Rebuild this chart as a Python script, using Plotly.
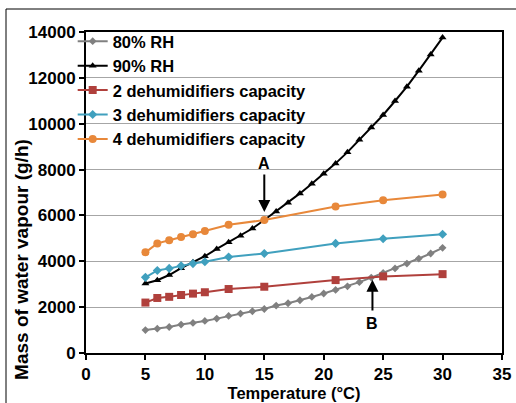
import plotly.graph_objects as go

# Data
temp_rh = list(range(5, 31))
rh80 = [1000, 1060, 1135, 1240, 1310, 1400, 1500, 1615, 1720, 1820, 1920, 2070, 2170,
        2300, 2445, 2595, 2750, 2910, 3090, 3290, 3490, 3690, 3900, 4120, 4340, 4585]
rh90 = [3030, 3175, 3400, 3700, 3960, 4220, 4540, 4830, 5110, 5430, 5800, 6175, 6550,
        6960, 7380, 7815, 8270, 8760, 9300, 9840, 10380, 10990, 11615, 12315, 13015, 13755]
temp_cap = [5, 6, 7, 8, 9, 10, 12, 15, 21, 25, 30]
cap2 = [2200, 2400, 2450, 2530, 2590, 2650, 2790, 2890, 3180, 3340, 3440]
cap3 = [3300, 3600, 3690, 3800, 3900, 3980, 4190, 4340, 4780, 4980, 5180]
cap4 = [4390, 4780, 4920, 5060, 5180, 5320, 5590, 5800, 6390, 6660, 6910]

series = [
    ("80% RH", temp_rh, rh80, "#808080", "diamond", 6),
    ("90% RH", temp_rh, rh90, "#000000", "triangle-up", 7),
    ("2 dehumidifiers capacity", temp_cap, cap2, "#B0403C", "square", 8),
    ("3 dehumidifiers capacity", temp_cap, cap3, "#40A0BE", "diamond", 7),
    ("4 dehumidifiers capacity", temp_cap, cap4, "#E8883A", "circle", 8),
]

fig = go.Figure()
for name, xs, ys, col, sym, sz in series:
    fig.add_trace(go.Scatter(x=xs, y=ys, name="<b>" + name + "</b>", mode="lines+markers",
                             line=dict(color=col, width=2),
                             marker=dict(symbol=sym, size=sz, color=col)))

font = dict(family="Liberation Sans", size=16, color="black")
fig.update_layout(
    width=516, height=403,
    margin=dict(l=86, r=14, t=32, b=50, autoexpand=False),
    paper_bgcolor="white", plot_bgcolor="white",
    font=font,
    showlegend=True,
    legend=dict(x=-0.032, y=1.025, xanchor="left", yanchor="top",
                bgcolor="rgba(0,0,0,0)", font=dict(family="Liberation Sans", size=16.5),
                itemwidth=30, tracegroupgap=0),
    xaxis=dict(range=[0, 35], dtick=5, showgrid=False, zeroline=False, automargin=False,
               showline=True, linecolor="black", linewidth=2, mirror=True,
               ticks="outside", ticklen=5, tickcolor="black", tickwidth=1.5,
               title=dict(text="<b>Temperature (°C)</b>", standoff=0, font=dict(size=16.5)),
               tickfont=dict(size=17), tickprefix="<b>", ticksuffix="</b>"),
    yaxis=dict(range=[0, 14000], dtick=2000, tickformat="d", showgrid=True, automargin=False,
               gridcolor="#A6A6A6", gridwidth=1,
               zeroline=False, showline=True, linecolor="black", linewidth=2, mirror=True,
               ticks="outside", ticklen=5, tickcolor="black", tickwidth=1.5,
               tickfont=dict(size=17), tickprefix="<b>", ticksuffix="</b>"),
)

# Y-axis title (placed like the reference, below the axis middle)
fig.add_annotation(xref="paper", yref="paper", x=-0.154, y=0.293, textangle=-90,
                   text="<b>Mass of water vapour (g/h)</b>", showarrow=False,
                   font=dict(size=19), xanchor="center", yanchor="middle")

# Annotations A and B
fig.add_annotation(x=15, y=6150, ax=15, ay=7850, xref="x", yref="y", axref="x", ayref="y",
                   text="", showarrow=True, arrowhead=2, arrowsize=1.2, arrowwidth=2, arrowcolor="black")
fig.add_annotation(x=15, y=8250, text="<b>A</b>", showarrow=False, font=dict(size=16))
fig.add_annotation(x=24.1, y=3200, ax=24.1, ay=1790, xref="x", yref="y", axref="x", ayref="y",
                   text="", showarrow=True, arrowhead=2, arrowsize=1.2, arrowwidth=2, arrowcolor="black")
fig.add_annotation(x=24.1, y=1290, text="<b>B</b>", showarrow=False, font=dict(size=16))

# Outer frame of the figure
fig.add_shape(type="rect", xref="paper", yref="paper",
              x0=(6 - 86) / 416, x1=(530 - 86) / 416, y0=(353 - 420) / 321, y1=(353 - 9) / 321,
              line=dict(color="black", width=1), layer="below")

fig.write_html("out.html", config={"displayModeBar": False},
               post_script="document.body.style.margin='0px';"
                           "document.documentElement.style.overflow='hidden';"
                           "document.body.style.overflow='hidden';")
